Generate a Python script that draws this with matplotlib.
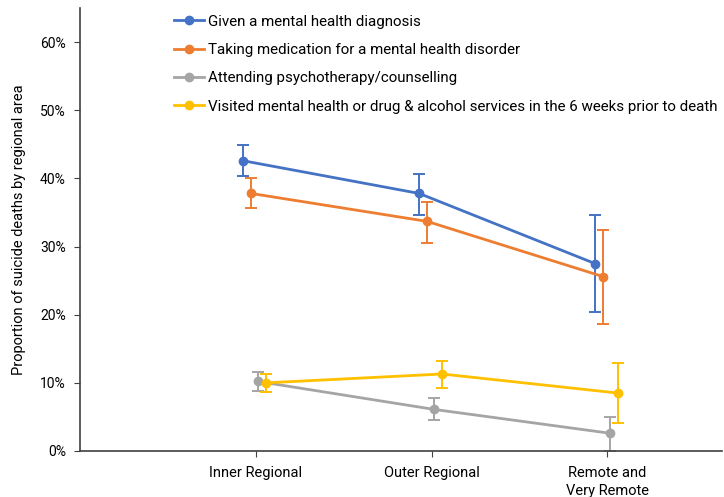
import matplotlib
matplotlib.use("Agg")
import matplotlib.pyplot as plt
import matplotlib.ticker as ticker
import numpy as np

plt.rcParams['font.family'] = ['Roboto', 'DejaVu Sans']

categories = ["Inner Regional", "Outer Regional", "Remote and\nVery Remote"]
series = [
    "Given a mental health diagnosis",
    "Taking medication for a mental health disorder",
    "Attending psychotherapy/counselling",
    "Visited mental health or drug & alcohol services in the 6 weeks prior to death",
]
# proportions (%) with lower / upper confidence bounds
diagnosis = [42.6, 37.8, 27.5]
diagnosis_lo = [40.4, 34.7, 20.4]
diagnosis_hi = [44.9, 40.7, 34.7]
medication = [37.8, 33.7, 25.6]
medication_lo = [35.6, 30.6, 18.6]
medication_hi = [40.0, 36.6, 32.5]
therapy = [10.2, 6.1, 2.6]
therapy_lo = [8.8, 4.5, 0.0]
therapy_hi = [11.6, 7.8, 5.0]
services = [10.0, 11.3, 8.5]
services_lo = [8.6, 9.3, 4.1]
services_hi = [11.3, 13.2, 12.9]

values = [diagnosis, medication, therapy, services]
lows = [diagnosis_lo, medication_lo, therapy_lo, services_lo]
highs = [diagnosis_hi, medication_hi, therapy_hi, services_hi]
colors = ['#4472C4', '#ED7D31', '#A5A5A5', '#FFC000']
offsets = [-0.07, -0.025, 0.015, 0.06]

fig = plt.figure(figsize=(7.24, 4.97), dpi=100)
ax = fig.add_axes([0.110, 0.0926, 0.887, 0.891])

xpos = np.arange(1, len(categories) + 1)
for v, lo, hi, c, off, lab in zip(values, lows, highs, colors, offsets, series):
    v = np.array(v) / 100
    lo = np.array(lo) / 100
    hi = np.array(hi) / 100
    ax.errorbar(xpos + off, v, yerr=[v - lo, hi - v], color=c, lw=2,
                marker='o', ms=6, elinewidth=1.4, capsize=4, capthick=1.4,
                label=lab)

ax.set_xlim(0, 3.65)
ax.set_ylim(0, 0.65)
ax.set_xticks(xpos)
ax.set_xticklabels(categories, fontsize=10.5, linespacing=1.35)
ax.yaxis.set_major_locator(ticker.MultipleLocator(0.1))
ax.yaxis.set_major_formatter(ticker.PercentFormatter(1.0, decimals=0))
ax.tick_params(axis='y', labelsize=10, length=4, color='#404040', pad=6)
ax.tick_params(axis='x', length=4, color='#404040', pad=7)
for s in ['top', 'right']:
    ax.spines[s].set_visible(False)
for s in ['left', 'bottom']:
    ax.spines[s].set_color('#404040')
    ax.spines[s].set_linewidth(1.2)
ax.set_ylabel("Proportion of suicide deaths by regional area", fontsize=10.5, labelpad=10)

handles, labels = ax.get_legend_handles_labels()
handles = [h[0] for h in handles]
fig.legend(handles, labels, loc='upper left', bbox_to_anchor=(0.232, 0.983),
           frameon=False, fontsize=10.9, labelspacing=0.95, handlelength=2.0,
           handletextpad=0.25, borderaxespad=0)

fig.savefig("out.png", dpi=100)
